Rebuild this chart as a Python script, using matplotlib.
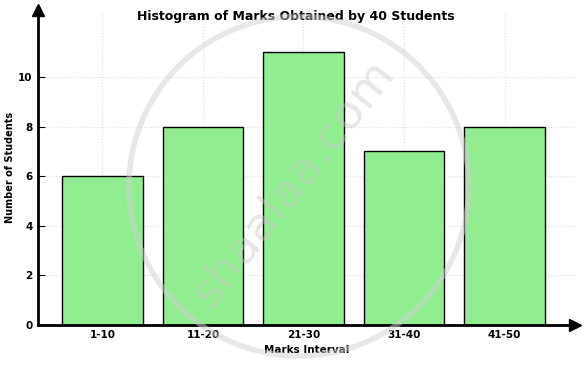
import matplotlib.pyplot as plt
from matplotlib.patches import Ellipse

intervals = ["1-10", "11-20", "21-30", "31-40", "41-50"]
students = [6, 8, 11, 7, 8]
yticks = [0, 2, 4, 6, 8, 10]

fig = plt.figure(figsize=(5.86, 3.65), dpi=100)
ax = fig.add_axes([0.065, 0.11, 0.916, 0.862])

x = list(range(len(intervals)))
ax.bar(x, students, width=0.8, color="#90EE90", edgecolor="black", linewidth=1, zorder=3)

ax.set_xlim(-0.64, 4.7)
ax.set_ylim(0, 12.7)
ax.set_xticks(x)
ax.set_xticklabels(intervals, fontsize=7.5, fontweight="bold")
ax.set_yticks(yticks)
ax.set_yticklabels([str(v) for v in yticks], fontsize=7.5, fontweight="bold")
ax.tick_params(axis="both", direction="in", length=5, width=0.8, pad=4)
ax.grid(True, linestyle=":", color="#dddddd", linewidth=0.8, zorder=0)

for s in ["top", "right"]:
    ax.spines[s].set_visible(False)
for s in ["left", "bottom"]:
    ax.spines[s].set_linewidth(2)
    ax.spines[s].set_zorder(4)

# arrow heads on the axes
ax.plot(1, 0, ">k", markersize=8, transform=ax.transAxes, clip_on=False, zorder=5)
ax.plot(0, 1, "^k", markersize=8, transform=ax.transAxes, clip_on=False, zorder=5)

ax.set_xlabel("Marks Interval", fontsize=7.5, fontweight="bold", labelpad=3)
ax.set_ylabel("Number of Students", fontsize=7, fontweight="bold")
ax.yaxis.set_label_coords(-0.043, 0.5)
fig.text(0.505, 0.955, "Histogram of Marks Obtained by 40 Students", ha="center", va="center",
         fontsize=9, fontweight="bold")

# watermark
fig.patches.append(Ellipse((0.51, 0.49), 0.58, 0.93, transform=fig.transFigure, fill=False,
                           edgecolor="#d0d0d0", linewidth=4, alpha=0.5, zorder=10))
fig.text(0.5, 0.5, "shaalaa.com", rotation=52, ha="center", va="center", fontsize=34,
         color="#c8c8c8", alpha=0.45, zorder=10)

fig.savefig("out.png", dpi=100)
